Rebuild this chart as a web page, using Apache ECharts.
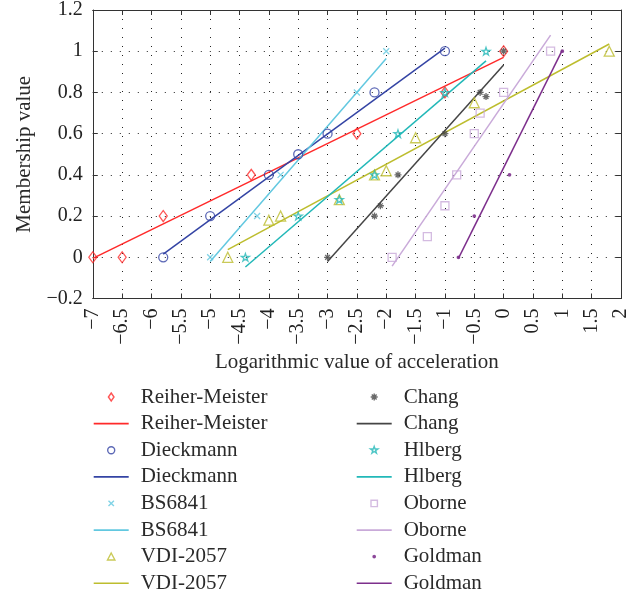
<!DOCTYPE html>
<html>
<head>
<meta charset="utf-8">
<script src="https://cdn.jsdelivr.net/npm/echarts@6/dist/echarts.min.js"></script>
<style>
html,body{margin:0;padding:0;background:#fff;}
#chart{width:644px;height:597px;}
</style>
</head>
<body>
<div id="chart"></div>
<script>
// ---- data ----
const xTickMin = -7, xTickMax = 2, xTickStep = 0.5;
const yTickMin = -0.2, yTickMax = 1.2, yTickStep = 0.2;

const methodNames = ['Reiher-Meister','Dieckmann','BS6841','VDI-2057','Chang','Hlberg','Oborne','Goldman'];

// measured points
const rmX = [-7, -6.5, -5.8, -4.3, -2.5, -1, 0];
const rmY = [0, 0, 0.2, 0.4, 0.6, 0.8, 1];
const dkX = [-5.8, -5, -4, -3.5, -3, -2.2, -1];
const dkY = [0, 0.2, 0.4, 0.5, 0.6, 0.8, 1];
const bsX = [-5, -4.2, -3.8, -2.5, -2];
const bsY = [0, 0.2, 0.4, 0.8, 1];
const vdX = [-4.7, -4, -3.8, -2.8, -2.2, -2, -1.5, -0.5, 1.8];
const vdY = [0, 0.18, 0.2, 0.28, 0.4, 0.42, 0.58, 0.75, 1];
const chX = [-3, -2.2, -2.1, -1.8, -1, -0.4, -0.3, 0];
const chY = [0, 0.2, 0.25, 0.4, 0.6, 0.8, 0.78, 1];
const hlX = [-4.4, -3.5, -2.8, -2.2, -1.8, -1, -0.3];
const hlY = [0, 0.2, 0.28, 0.4, 0.6, 0.8, 1];
const obX = [-1.9, -1.3, -1, -0.8, -0.5, -0.4, 0, 0.8];
const obY = [0, 0.1, 0.25, 0.4, 0.6, 0.7, 0.8, 1];
const goX = [-0.77, -0.5, 0.1, 1];
const goY = [0, 0.2, 0.4, 1];

// fitted lines (end points)
const rmFitX = [-7, 0],     rmFitY = [-0.005, 0.97];
const dkFitX = [-5.8, -1],  dkFitY = [0.015, 1.015];
const bsFitX = [-5, -2],    bsFitY = [-0.02, 0.965];
const vdFitX = [-4.7, 1.8], vdFitY = [0.037, 1.035];
const chFitX = [-3, 0],     chFitY = [-0.02, 0.933];
const hlFitX = [-4.4, -0.3],hlFitY = [-0.047, 0.953];
const obFitX = [-1.9, 0.8], obFitY = [-0.043, 1.078];
const goFitX = [-0.77, 1],  goFitY = [-0.005, 1.005];

// ---- styling ----
const colors = {
  rm: '#ff2a2a', dk: '#3444a4', bs: '#62c8e0', vd: '#bdbd2e',
  ch: '#454545', hl: '#22b8b8', ob: '#c9aad9', go: '#7d2f8c'
};
const STAR = 'path://M10,0L12.245,6.91L19.51,6.91L13.63,11.18L15.88,18.09L10,13.82L4.12,18.09L6.37,11.18L0.49,6.91L7.755,6.91Z';
const CROSS = 'path://M0,0L10,10M10,0L0,10';
const ASTER = 'path://M5,0L5,10M0,5L10,5M1.6,1.6L8.4,8.4M8.4,1.6L1.6,8.4';

// legend icons: drawn inside a 350x80 box (=35x8 px legend cell)
const BOX = 'M0,0L0,0M350,80L350,80';
const LEG = {
  diamond: 'path://' + BOX + 'M175,0L203,40L175,80L147,40Z',
  circle: 'path://' + BOX + 'M140,40A35,35 0 1 0 210,40A35,35 0 1 0 140,40Z',
  cross: 'path://' + BOX + 'M148,13L202,67M202,13L148,67',
  triangle: 'path://' + BOX + 'M175,4L212,74L138,74Z',
  aster: 'path://' + BOX + 'M175,5L175,75M140,40L210,40M151,16L199,64M199,16L151,64',
  star: 'path://' + BOX + 'M175,2L183.9,27.8L211.1,27.8L189.1,43.6L197.4,69.4L175,53.4L152.6,69.4L160.9,43.6L138.9,27.8L166.1,27.8Z',
  rect: 'path://' + BOX + 'M143,8L207,8L207,72L143,72Z',
  dot: 'path://' + BOX + 'M163,40A12,12 0 1 0 187,40A12,12 0 1 0 163,40Z',
  line: 'path://' + BOX + 'M0,32L350,32L350,49L0,49Z'
};

function zip(xs, ys){ return xs.map((x,i)=>[x, ys[i]]); }
function pts(name, xs, ys, symbol, size, color, filled){
  return {
    name: name, type: 'scatter', data: zip(xs, ys),
    symbol: symbol, symbolSize: size, symbolKeepAspect: true,
    itemStyle: { color: filled ? color : 'rgba(0,0,0,0)', borderColor: color, borderWidth: 1.3 },
    emphasis: { disabled: true }, z: 3
  };
}
function fit(name, xs, ys, color){
  return {
    name: name, type: 'line', data: zip(xs, ys), symbol: 'none', showSymbol: false,
    lineStyle: { color: color, width: 1.5 }, itemStyle: { color: color, borderColor: color },
    emphasis: { disabled: true }, z: 2
  };
}
const FIT = ' \u200bfit';
const series = [
  pts(methodNames[0], rmX, rmY, 'diamond', [8, 11], colors.rm, false),
  fit(methodNames[0] + FIT, rmFitX, rmFitY, colors.rm),
  pts(methodNames[1], dkX, dkY, 'circle', 9, colors.dk, false),
  fit(methodNames[1] + FIT, dkFitX, dkFitY, colors.dk),
  pts(methodNames[2], bsX, bsY, CROSS, 6, colors.bs, false),
  fit(methodNames[2] + FIT, bsFitX, bsFitY, colors.bs),
  pts(methodNames[3], vdX, vdY, 'triangle', 10, colors.vd, false),
  fit(methodNames[3] + FIT, vdFitX, vdFitY, colors.vd),
  pts(methodNames[4], chX, chY, ASTER, 7, colors.ch, false),
  fit(methodNames[4] + FIT, chFitX, chFitY, colors.ch),
  pts(methodNames[5], hlX, hlY, STAR, 8, colors.hl, false),
  fit(methodNames[5] + FIT, hlFitX, hlFitY, colors.hl),
  pts(methodNames[6], obX, obY, 'rect', 8, colors.ob, false),
  fit(methodNames[6] + FIT, obFitX, obFitY, colors.ob),
  pts(methodNames[7], goX, goY, 'circle', 2.5, colors.go, true),
  fit(methodNames[7] + FIT, goFitX, goFitY, colors.go)
];
const legendIcons = ['diamond','line','circle','line','cross','line','triangle','line',
                     'aster','line','star','line','rect','line','dot','line'];

const FONT = 'Liberation Serif';
function minusFmt(v, d){
  const s = String(+(+v).toFixed(d));
  return s.replace('-', '\u2212');
}
const legendCommon = {
  orient: 'vertical', itemWidth: 35, itemHeight: 8, itemGap: 5.6, padding: 0,
  height: 230, selectedMode: false,
  textStyle: { fontFamily: FONT, fontSize: 21, color: '#2a2a2a', lineHeight: 21, padding: [0,0,0,7] },
  formatter: n => n.replace(FIT, '')
};
function legendData(from, to){
  const out = [];
  for (let i = from; i < to; i++) {
    const s = series[i];
    const isLine = legendIcons[i] === 'line';
    const c = isLine ? s.lineStyle.color : s.itemStyle.borderColor;
    out.push({
      name: s.name, icon: LEG[legendIcons[i]],
      itemStyle: isLine ? { color: c, borderWidth: 0 }
        : { color: legendIcons[i] === 'dot' ? c : 'rgba(0,0,0,0)', borderColor: c, borderWidth: 1.4 }
    });
  }
  return out;
}

const axisLineStyle = { color: '#333', width: 1 };
const option = {
  animation: false,
  backgroundColor: '#fff',
  grid: { left: 92.8, right: 23, top: 8, bottom: 298.5, containLabel: false },
  xAxis: [{
    type: 'value', min: xTickMin, max: xTickMax, interval: xTickStep,
    axisLine: { show: true, onZero: false, lineStyle: axisLineStyle },
    axisTick: { show: true, inside: true, length: 5, lineStyle: axisLineStyle },
    axisLabel: { rotate: 90, margin: 10, fontFamily: FONT, fontSize: 20, color: '#222',
                 formatter: v => minusFmt(v, 1) },
    splitLine: { show: true, lineStyle: { color: '#222', width: 1, type: [1, 8] } },
    name: 'Logarithmic value of acceleration', nameLocation: 'middle', nameGap: 53,
    nameTextStyle: { fontFamily: FONT, fontSize: 21, color: '#2a2a2a' }
  }, {
    type: 'value', position: 'top', min: xTickMin, max: xTickMax, interval: xTickStep,
    axisLine: { show: true, onZero: false, lineStyle: axisLineStyle },
    axisTick: { show: true, inside: true, length: 5, lineStyle: axisLineStyle },
    axisLabel: { show: false }, splitLine: { show: false }
  }],
  yAxis: [{
    type: 'value', min: yTickMin, max: yTickMax, interval: yTickStep,
    axisLine: { show: true, onZero: false, lineStyle: axisLineStyle },
    axisTick: { show: true, inside: true, length: 5, lineStyle: axisLineStyle },
    axisLabel: { margin: 10, fontFamily: FONT, fontSize: 20, color: '#222',
                 formatter: v => minusFmt(v, 2) },
    splitLine: { show: true, lineStyle: { color: '#222', width: 1, type: [1, 8] } },
    name: 'Membership value', nameLocation: 'middle', nameGap: 58,
    nameTextStyle: { fontFamily: FONT, fontSize: 21, color: '#2a2a2a' }
  }, {
    type: 'value', position: 'right', min: yTickMin, max: yTickMax, interval: yTickStep,
    axisLine: { show: true, onZero: false, lineStyle: axisLineStyle },
    axisTick: { show: true, inside: true, length: 5, lineStyle: axisLineStyle },
    axisLabel: { show: false }, splitLine: { show: false }
  }],
  legend: [
    Object.assign({}, legendCommon, { left: 93, top: 386.5, data: legendData(0, 8) }),
    Object.assign({}, legendCommon, { left: 356, top: 386.5, data: legendData(8, 16) })
  ],
  series: series
};
const chart = echarts.init(document.getElementById('chart'), null, { renderer: 'canvas' });
chart.setOption(option);
</script>
</body>
</html>
